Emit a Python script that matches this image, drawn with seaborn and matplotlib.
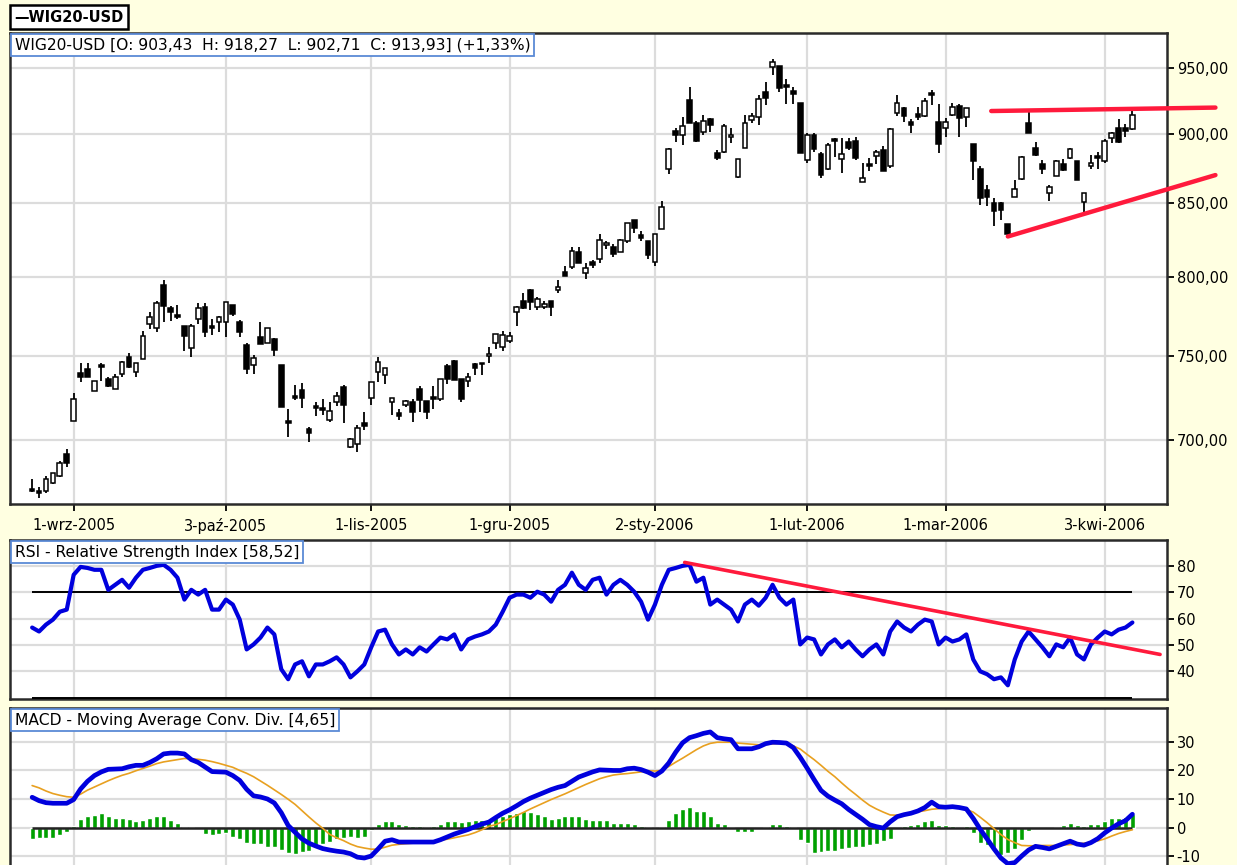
import numpy as np
import matplotlib
matplotlib.use("Agg")
import matplotlib.pyplot as plt
import seaborn as sns
from matplotlib.ticker import FixedLocator, FixedFormatter, NullLocator

# ---------------- data ----------------
opens = [672.2, 671.1, 671.1, 675.7, 679.7, 691.8, 711.1, 739.7, 742.1, 728.4,
         744.5, 736.1, 729.6, 739.1, 749.2, 740.3, 748.0, 769.5, 767.6, 795.0,
         779.7, 775.3, 768.3, 754.9, 772.7, 780.4, 768.3, 770.8, 770.8, 781.7,
         770.8, 756.8, 744.5, 761.9, 758.1, 760.6, 744.5, 711.1, 725.4, 729.0,
         706.4, 719.5, 718.3, 711.7, 721.9, 730.8, 695.8, 697.5, 709.4, 724.2,
         740.3, 738.5, 721.9, 715.3, 720.1, 721.9, 729.6, 722.5, 724.8, 723.6,
         743.9, 746.8, 736.1, 734.9, 745.1, 745.7, 749.8, 758.1, 755.5, 759.4,
         777.2, 784.2, 791.8, 780.4, 780.4, 784.2, 791.8, 803.5, 806.9, 816.4,
         802.8, 810.3, 812.3, 821.1, 819.8, 817.0, 823.8, 838.7, 827.9, 823.8,
         810.3, 832.6, 874.7, 902.1, 899.1, 925.7, 908.2, 901.4, 911.2, 886.2,
         886.9, 897.6, 868.9, 889.8, 910.5, 912.8, 931.8, 950.8, 951.6, 937.1,
         932.5, 923.4, 880.5, 899.1, 885.5, 874.0, 896.3, 881.9, 894.1, 894.8,
         865.3, 877.6, 884.1, 888.4, 876.2, 915.8, 919.6, 909.0, 915.0, 913.5,
         931.0, 909.0, 904.4, 914.3, 921.1, 912.8, 892.7, 874.7, 859.6, 850.3,
         850.3, 835.4, 854.6, 867.5, 908.2, 889.8, 877.6, 857.4, 869.0, 877.6,
         882.6, 879.8, 850.9, 876.2, 884.1, 879.8, 897.0, 904.4, 904.4, 903.43]
highs = [678.0, 673.4, 679.7, 681.4, 687.8, 694.7, 727.2, 745.7, 745.7, 734.9,
         745.7, 737.3, 739.1, 746.8, 751.7, 745.7, 765.7, 777.2, 784.8, 798.2,
         781.0, 781.7, 768.3, 769.5, 782.9, 782.9, 772.7, 774.6, 783.6, 781.7,
         772.1, 758.1, 750.4, 770.8, 767.0, 761.2, 744.5, 717.7, 732.0, 733.2,
         707.6, 721.9, 723.6, 721.9, 727.8, 732.0, 701.0, 708.8, 715.9, 733.8,
         749.2, 742.7, 724.2, 717.7, 723.0, 723.6, 731.4, 722.5, 731.4, 736.1,
         745.1, 747.4, 736.1, 739.7, 745.7, 745.7, 755.5, 763.8, 765.7, 764.5,
         781.0, 789.9, 792.5, 787.4, 784.2, 784.2, 798.2, 807.6, 820.4, 820.4,
         809.6, 811.6, 828.6, 823.8, 821.8, 825.2, 836.7, 838.7, 830.6, 823.8,
         828.6, 851.7, 889.8, 904.4, 912.8, 935.6, 909.7, 914.3, 912.0, 888.4,
         907.4, 904.4, 881.9, 914.3, 915.8, 929.5, 939.4, 957.0, 951.6, 941.6,
         935.6, 923.4, 900.6, 900.6, 886.9, 893.4, 897.0, 897.0, 897.0, 897.7,
         879.0, 882.6, 888.4, 891.2, 904.4, 929.5, 920.4, 911.2, 920.4, 927.2,
         933.3, 922.6, 912.0, 923.4, 922.6, 919.6, 892.7, 876.2, 863.2, 853.9,
         851.0, 835.4, 866.7, 884.1, 917.3, 894.1, 881.2, 863.2, 881.2, 881.9,
         889.8, 879.8, 857.4, 884.8, 886.9, 896.3, 901.4, 911.2, 907.4, 918.27]
lows = [670.5, 667.1, 669.9, 675.1, 679.1, 684.3, 711.1, 733.8, 737.3, 728.4,
        734.4, 730.8, 729.6, 737.3, 742.7, 737.3, 748.0, 766.4, 764.5, 770.8,
        771.5, 772.7, 753.0, 749.2, 769.5, 761.9, 763.2, 764.5, 761.9, 774.6,
        761.9, 739.1, 739.1, 757.4, 758.1, 749.8, 718.9, 701.6, 723.0, 718.3,
        698.7, 713.5, 714.1, 710.5, 719.5, 709.9, 695.2, 692.9, 705.8, 720.1,
        733.8, 732.6, 714.1, 711.7, 718.9, 710.5, 715.9, 712.3, 717.7, 722.5,
        732.6, 735.5, 721.9, 730.8, 738.5, 738.5, 745.7, 754.3, 753.0, 758.1,
        768.3, 779.1, 778.5, 778.5, 779.1, 774.6, 789.9, 800.8, 805.5, 809.6,
        798.9, 806.2, 809.6, 818.4, 813.7, 817.0, 823.1, 829.3, 823.8, 812.3,
        807.6, 832.0, 871.1, 894.1, 892.0, 908.2, 894.1, 899.1, 901.4, 880.5,
        886.2, 893.4, 868.2, 889.8, 908.2, 906.7, 921.9, 944.7, 931.8, 922.6,
        922.6, 886.2, 879.0, 886.9, 868.2, 873.3, 883.3, 871.8, 888.4, 880.5,
        865.3, 872.6, 877.6, 872.6, 875.4, 913.5, 909.0, 900.6, 910.5, 912.8,
        921.9, 886.2, 897.7, 913.5, 897.7, 905.2, 866.7, 848.9, 848.2, 834.6,
        838.7, 827.2, 854.6, 866.7, 900.6, 884.1, 871.1, 851.7, 869.0, 872.6,
        881.9, 866.7, 842.8, 874.7, 874.7, 879.0, 893.4, 893.4, 897.7, 902.71]
closes = [671.1, 669.9, 678.0, 680.9, 686.6, 686.6, 723.6, 737.3, 737.3, 734.9,
          743.3, 731.4, 737.3, 746.3, 743.3, 745.7, 762.5, 774.0, 782.9, 781.0,
          777.2, 774.0, 762.5, 768.3, 779.7, 764.5, 767.0, 774.0, 783.6, 775.9,
          764.5, 742.1, 748.6, 757.4, 767.0, 753.6, 718.9, 709.9, 724.2, 724.2,
          704.0, 718.3, 717.1, 716.5, 725.4, 720.1, 700.4, 707.0, 708.2, 733.8,
          746.3, 742.7, 724.2, 713.5, 722.5, 715.9, 723.0, 715.9, 723.6, 736.1,
          736.1, 735.5, 723.6, 737.3, 742.7, 745.1, 751.1, 763.8, 763.2, 762.5,
          780.4, 779.7, 783.6, 785.5, 782.3, 780.4, 793.8, 800.8, 817.7, 809.6,
          806.2, 808.2, 824.5, 822.5, 815.7, 824.5, 836.7, 833.3, 826.5, 815.0,
          828.6, 847.6, 889.1, 899.1, 905.9, 908.2, 894.8, 909.7, 906.7, 882.6,
          905.9, 899.1, 881.9, 908.2, 913.5, 926.4, 927.2, 954.7, 934.8, 935.6,
          930.2, 886.2, 899.1, 889.1, 869.7, 892.0, 894.8, 885.5, 889.8, 882.6,
          868.2, 876.2, 886.9, 872.6, 903.6, 923.4, 913.5, 906.7, 912.8, 924.9,
          929.5, 892.7, 909.0, 920.4, 912.0, 919.6, 879.8, 853.9, 854.6, 844.8,
          845.5, 828.6, 860.4, 883.3, 900.6, 884.8, 874.7, 861.8, 879.8, 873.3,
          889.1, 866.7, 857.4, 879.0, 882.6, 894.8, 900.6, 894.1, 902.1, 913.93]

rsi = [56.6, 55.1, 57.7, 59.6, 62.6, 63.4, 76.6, 79.6, 79.2, 78.5,
       78.5, 70.9, 72.8, 74.7, 71.7, 75.5, 78.5, 79.2, 80.0, 80.4,
       78.5, 75.5, 67.2, 70.9, 69.1, 70.9, 63.4, 63.4, 67.2, 65.3,
       59.6, 48.3, 50.2, 52.8, 56.6, 54.0, 40.8, 37.0, 42.6, 43.8,
       38.1, 42.6, 42.6, 43.8, 45.3, 42.6, 37.7, 40.0, 42.6, 49.1,
       55.1, 55.8, 50.2, 46.4, 48.3, 46.4, 49.1, 47.5, 50.2, 52.8,
       52.1, 54.0, 48.3, 52.1, 53.2, 54.0, 55.1, 57.7, 62.6, 67.9,
       69.1, 69.1, 67.9, 70.2, 69.1, 66.4, 70.9, 72.8, 77.4, 72.8,
       70.9, 74.7, 75.5, 69.1, 72.8, 74.7, 72.8, 70.2, 66.4, 59.6,
       65.3, 72.8, 78.5, 79.2, 80.0, 80.4, 74.0, 75.5, 65.3, 67.2,
       65.3, 63.4, 58.9, 65.3, 67.2, 64.9, 67.9, 72.8, 67.9, 65.3,
       67.2, 50.2, 52.8, 52.1, 46.4, 50.2, 52.1, 49.1, 51.3, 48.3,
       45.7, 48.3, 50.2, 46.4, 55.1, 58.9, 56.6, 55.1, 57.7, 59.6,
       58.9, 50.2, 52.8, 51.3, 52.1, 54.0, 44.5, 40.0, 38.9, 37.0,
       37.7, 34.7, 44.5, 51.3, 55.1, 52.1, 49.1, 45.7, 50.2, 49.1,
       52.8, 46.4, 44.5, 50.2, 52.8, 55.1, 54.0, 55.8, 56.6, 58.52]

macd = [10.6, 9.4, 8.7, 8.5, 8.5, 8.5, 9.8, 13.5, 16.2, 18.2,
        19.5, 20.4, 20.5, 20.6, 21.3, 21.8, 21.8, 22.8, 24.1, 25.8,
        26.1, 26.1, 25.8, 23.8, 22.8, 21.2, 19.6, 19.5, 19.4, 18.2,
        16.5, 13.4, 11.1, 10.7, 10.0, 8.6, 5.2, 0.7, -1.7, -4.0,
        -5.5, -6.5, -7.4, -7.9, -8.3, -8.6, -9.2, -10.4, -10.7, -10.0,
        -7.5, -4.8, -4.3, -5.1, -5.1, -5.1, -5.1, -5.1, -5.1, -4.3,
        -3.3, -2.3, -1.5, -0.7, 0.3, 1.2, 1.9, 3.5, 5.0, 6.2,
        7.6, 9.1, 10.3, 11.3, 12.3, 13.3, 14.1, 14.7, 16.2, 17.7,
        18.6, 19.5, 20.2, 20.1, 20.0, 20.0, 20.6, 20.8, 20.3, 19.4,
        18.2, 19.8, 22.6, 26.4, 29.7, 31.5, 32.2, 33.0, 33.5, 31.5,
        31.1, 30.8, 27.6, 27.6, 27.6, 28.3, 29.4, 29.9, 29.8, 29.6,
        28.0, 24.6, 20.8, 16.8, 13.0, 11.0, 9.6, 8.3, 6.3, 4.6,
        2.9, 1.0, 0.3, -0.2, 2.0, 3.8, 4.5, 5.0, 5.8, 7.0,
        8.9, 7.3, 7.1, 7.3, 7.0, 6.5, 3.2, -0.6, -4.0, -7.5,
        -10.7, -12.7, -12.3, -10.0, -7.9, -6.6, -7.0, -7.5, -6.6, -5.7,
        -4.8, -5.8, -6.2, -5.3, -3.9, -1.9, -0.2, 1.3, 2.4, 4.65]

signal = [14.7, 13.9, 12.8, 11.9, 11.3, 10.8, 10.6, 11.7, 13.1, 14.2,
          15.3, 16.4, 17.4, 18.3, 19.0, 19.9, 20.7, 21.5, 22.4, 23.0,
          23.4, 23.8, 24.2, 24.1, 23.9, 23.6, 23.1, 22.5, 21.8, 21.1,
          20.0, 19.0, 17.8, 16.3, 14.8, 13.2, 11.6, 9.9, 8.1, 5.9,
          3.7, 1.6, -0.3, -2.4, -3.6, -4.6, -5.8, -6.7, -7.2, -7.6,
          -7.6, -6.9, -6.2, -5.9, -5.7, -5.5, -5.3, -5.1, -4.8, -4.5,
          -4.1, -3.6, -3.1, -2.6, -1.8, -0.8, 0.4, 1.0, 2.1, 3.1,
          4.2, 5.3, 6.5, 7.6, 8.7, 9.8, 10.8, 11.8, 12.9, 14.0,
          15.1, 16.1, 17.1, 17.8, 18.4, 18.7, 18.9, 19.2, 19.5, 19.9,
          19.8, 20.0, 21.4, 22.9, 24.3, 25.8, 27.3, 28.6, 29.5, 29.9,
          29.9, 29.9, 29.6, 29.4, 29.2, 29.0, 29.1, 29.3, 29.5, 29.6,
          28.6, 27.5, 25.6, 23.8, 21.8, 19.7, 17.8, 15.6, 13.5, 11.6,
          9.6, 7.8, 6.5, 5.4, 4.4, 4.3, 4.6, 5.1, 5.5, 5.9,
          6.4, 6.6, 6.8, 7.0, 6.8, 6.3, 5.4, 3.6, 1.7, -0.4,
          -2.5, -4.2, -5.3, -6.3, -6.4, -6.4, -6.3, -6.3, -6.3, -6.1,
          -6.0, -5.8, -5.5, -5.2, -4.7, -4.0, -3.0, -2.1, -1.4, -0.8]

hist = [-4.0, -3.7, -3.7, -3.7, -2.5, -1.5, 0.5, 3.0, 4.2, 4.4,
        5.0, 3.9, 3.5, 3.3, 3.0, 2.3, 2.5, 3.5, 3.9, 3.9,
        2.5, 1.6, 0.2, 0.1, -0.2, -2.3, -2.7, -2.3, -2.0, -3.3,
        -4.2, -5.6, -5.9, -5.9, -6.9, -6.9, -7.8, -9.0, -9.2, -8.7,
        -8.3, -6.9, -5.9, -5.1, -4.0, -3.7, -3.5, -3.7, -3.5, -1.0,
        1.1, 2.2, 2.2, 1.2, 0.8, 0.6, 0.6, 0.2, 0.5, 1.4,
        2.2, 2.2, 2.0, 2.3, 2.5, 2.8, 3.0, 3.6, 4.2, 4.7,
        5.0, 5.7, 5.4, 4.9, 4.2, 3.0, 3.3, 3.9, 4.2, 3.9,
        3.0, 2.8, 2.8, 2.8, 1.6, 1.6, 1.6, 1.4, 0.5, 0.1,
        -0.7, 0.1, 2.8, 5.0, 6.6, 7.1, 5.7, 5.7, 4.2, 1.6,
        1.1, 0.1, -1.5, -1.5, -1.5, 0.0, 0.1, 1.1, 1.1, 0.5,
        0.1, -4.4, -5.4, -9.0, -8.5, -8.1, -8.1, -7.6, -7.3, -7.0,
        -6.7, -6.2, -5.8, -4.7, -3.9, 0.0, 0.5, 0.8, 1.2, 2.2,
        2.5, 0.8, 0.8, 0.5, 0.0, 0.5, -2.0, -5.6, -6.2, -7.3,
        -9.7, -9.1, -7.6, -4.4, -1.2, 0.0, 0.0, 0.0, 0.2, 0.8,
        1.6, 0.8, 0.5, 1.1, 1.4, 2.2, 3.2, 3.2, 3.8, 4.7]

date_tick_pos = [6, 28, 49, 69, 90, 112, 132, 155]
date_tick_labels = ["1-wrz-2005", "3-paź-2005", "1-lis-2005", "1-gru-2005",
                    "2-sty-2006", "1-lut-2006", "1-mar-2006", "3-kwi-2006"]
price_ticks = [700, 750, 800, 850, 900, 950]
rsi_ticks = [40, 50, 60, 70, 80]
rsi_levels = [70, 30]
macd_ticks = [-10, 0, 10, 20, 30]

# trend lines (index, value)
price_top_line_x = [138.6, 171.0]
price_top_line_y = [917.0, 919.6]
price_bottom_line_x = [141.0, 171.0]
price_bottom_line_y = [827.2, 870.0]
rsi_line_x = [94.3, 163.0]
rsi_line_y = [81.3, 46.4]

legend_text = "\u2014WIG20-USD"
price_title = "WIG20-USD [O: 903,43  H: 918,27  L: 902,71  C: 913,93] (+1,33%)"
rsi_title = "RSI - Relative Strength Index [58,52]"
macd_title = "MACD - Moving Average Conv. Div. [4,65]"

# ---------------- style ----------------
sns.set_style("white")
plt.rcParams['font.family'] = ['DejaVu Sans']
BG = '#FFFFE1'
GRID = '#DCDCDC'
W, H = 1237, 865
fig = plt.figure(figsize=(W / 100, H / 100), dpi=100, facecolor=BG)


def px_axes(left, top, right, bottom):
    return fig.add_axes([left / W, 1 - bottom / H, (right - left) / W, (bottom - top) / H])


ax1 = px_axes(10, 33, 1167, 504)
ax2 = px_axes(10, 540, 1167, 699)
ax3 = px_axes(10, 708, 1167, 868)

idx = np.arange(len(closes))
o = np.array(opens); h = np.array(highs); l = np.array(lows); c = np.array(closes)
xlim = (-3.2, 164.0)

for ax in (ax1, ax2, ax3):
    ax.set_facecolor('white')
    ax.set_xlim(*xlim)
    for s in ax.spines.values():
        s.set_color('#2A2A2A')
        s.set_linewidth(1.8)
    ax.xaxis.set_major_locator(FixedLocator(date_tick_pos))
    ax.xaxis.set_minor_locator(NullLocator())
    ax.grid(True, which='major', color=GRID, linewidth=1.6, zorder=0)
    ax.set_axisbelow(True)
    ax.yaxis.tick_right()
    ax.tick_params(axis='y', which='major', direction='out', length=5, width=1.3,
                   labelsize=10.5, pad=2, colors='black', left=False, right=True)

# ---------------- price panel ----------------
ax1.set_yscale('log')
ax1.set_ylim(664.0, 977.7)
ax1.yaxis.set_major_locator(FixedLocator(price_ticks))
ax1.yaxis.set_major_formatter(FixedFormatter([f"{v:.2f}".replace('.', ',') for v in price_ticks]))
ax1.yaxis.set_minor_locator(NullLocator())
ax1.xaxis.set_major_formatter(FixedFormatter(date_tick_labels))
ax1.tick_params(axis='x', direction='out', length=5, width=1.3, labelsize=10.5, pad=5,
                bottom=True, colors='black')

up = c >= o
ax1.vlines(idx, l, h, color='black', linewidth=1.3, zorder=2)
body_bottom = np.minimum(o, c)
body_height = np.abs(c - o)
ax1.bar(idx, body_height, bottom=body_bottom, width=0.68,
        color=np.where(up, 'white', 'black'), edgecolor='black', linewidth=1.1, zorder=3)

ax1.plot(price_top_line_x, price_top_line_y, color='#FF1A3C', linewidth=3.2, clip_on=False, zorder=6)
ax1.plot(price_bottom_line_x, price_bottom_line_y, color='#FF1A3C', linewidth=3.2, clip_on=False, zorder=6)

# ---------------- RSI panel ----------------
ax2.set_ylim(29.5, 89.8)
ax2.yaxis.set_major_locator(FixedLocator(rsi_ticks))
ax2.yaxis.set_major_formatter(FixedFormatter([str(v) for v in rsi_ticks]))
ax2.tick_params(axis='x', length=0, labelbottom=False)
ax2.hlines(rsi_levels, idx[0], idx[-1], colors='black', linewidth=1.4, zorder=3)
sns.lineplot(x=idx, y=rsi, ax=ax2, color='#0000DD', linewidth=3, legend=False, zorder=4)
ax2.plot(rsi_line_x, rsi_line_y, color='#FF1A3C', linewidth=2.6, zorder=5)
ax2.set_xlabel(''); ax2.set_ylabel('')

# ---------------- MACD panel ----------------
ax3.set_ylim(-14.2, 41.9)
ax3.yaxis.set_major_locator(FixedLocator(macd_ticks))
ax3.yaxis.set_major_formatter(FixedFormatter([str(v) for v in macd_ticks]))
ax3.tick_params(axis='x', length=0, labelbottom=False)
ax3.bar(idx, hist, width=0.72, color='#00A000', zorder=2)
ax3.hlines([0], idx[0], idx[-1], colors='#222222', linewidth=1.8, zorder=3)
sns.lineplot(x=idx, y=signal, ax=ax3, color='#E8A020', linewidth=1.2, legend=False, zorder=4)
sns.lineplot(x=idx, y=macd, ax=ax3, color='#0000DD', linewidth=3.4, legend=False, zorder=5)
ax3.set_xlabel(''); ax3.set_ylabel('')

# ---------------- labels ----------------
box_style = dict(boxstyle='square,pad=0.22', fc='white', ec='#5A8AD6', lw=1.3)
for ax, t in ((ax1, price_title), (ax2, rsi_title), (ax3, macd_title)):
    ax.annotate(t, xy=(0, 1), xycoords='axes fraction', xytext=(3.5, -3.5),
                textcoords='offset points', ha='left', va='top', fontsize=11.2,
                color='black', bbox=box_style, zorder=10)

fig.text(14 / W, 1 - 17 / H, legend_text, ha='left', va='center', fontsize=10.5,
         fontweight='bold', color='black',
         bbox=dict(boxstyle='square,pad=0.3', fc='white', ec='black', lw=1.8))

fig.savefig('out.png', dpi=100, facecolor=fig.get_facecolor())
